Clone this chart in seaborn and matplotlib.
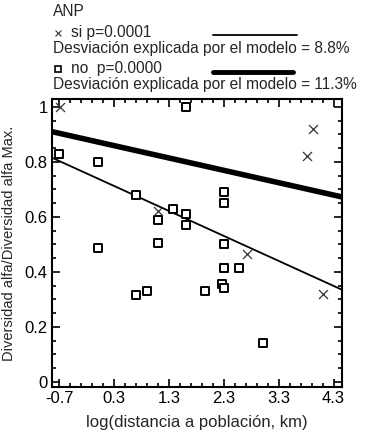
import numpy as np
import pandas as pd
import seaborn as sns
import matplotlib.pyplot as plt
from matplotlib.lines import Line2D

# points
si_x = [-0.68, 3.92, 3.81, 1.10, 2.72, 4.10]
si_y = [1.00, 0.92, 0.82, 0.62, 0.465, 0.32]
no_x = [-0.70, 0.01, 1.61, 0.70, 1.37, 1.10, 1.61, 1.61, 1.10, 2.30, 2.30, 2.30,
        0.01, 0.70, 0.90, 1.95, 2.30, 2.57, 2.26, 2.30, 3.01]
no_y = [0.83, 0.80, 1.00, 0.68, 0.63, 0.59, 0.61, 0.57, 0.505, 0.69, 0.65, 0.50,
        0.485, 0.315, 0.33, 0.33, 0.415, 0.415, 0.355, 0.34, 0.14]

# fitted lines (intercept at x=0, slope)
fit_si = (0.740, -0.091)
fit_no = (0.873, -0.045)

xticks = [-0.7, 0.3, 1.3, 2.3, 3.3, 4.3]
yticks = [0, 0.2, 0.4, 0.6, 0.8, 1.0]

df = pd.DataFrame({'x': si_x + no_x, 'y': si_y + no_y,
                   'ANP': ['si'] * len(si_x) + ['no'] * len(no_x)})

sns.set_style('ticks')
plt.rcParams['font.family'] = ['Liberation Sans', 'DejaVu Sans']

fig = plt.figure(figsize=(3.74, 4.41), dpi=100)
ax = fig.add_axes([0.139, 0.122, 0.775, 0.654])

xl = (-0.83, 4.45)
xx = np.array(xl)
lines = pd.DataFrame({'x': np.concatenate([xx, xx]),
                      'y': np.concatenate([fit_si[0] + fit_si[1] * xx,
                                           fit_no[0] + fit_no[1] * xx]),
                      'ANP': ['si', 'si', 'no', 'no']})
sns.lineplot(data=lines[lines.ANP == 'si'], x='x', y='y', color='black', lw=1.3, ax=ax)
sns.lineplot(data=lines[lines.ANP == 'no'], x='x', y='y', color='black', lw=4, ax=ax)

sns.scatterplot(data=df[df.ANP == 'no'], x='x', y='y', marker='s', s=30,
                facecolor='white', edgecolor='black', linewidth=1.4, ax=ax, zorder=3)
sns.scatterplot(data=df[df.ANP == 'si'], x='x', y='y', marker='x', s=42,
                color='#333333', linewidth=0.9, ax=ax, zorder=3)

ax.set_xlim(xl)
ax.set_ylim(-0.02, 1.03)
ax.set_xticks(xticks)
ax.set_xticklabels([str(t) for t in xticks])
ax.set_yticks(yticks)
ax.set_yticklabels(['0', '0.2', '0.4', '0.6', '0.8', '1'])
ax.set_xticks(np.arange(-0.7, 4.31, 0.2), minor=True)
ax.set_yticks(np.arange(0, 1.01, 0.05), minor=True)
ax.tick_params(which='both', direction='in', top=True, right=True, labelsize=12,
               width=1.2, colors='black')
ax.tick_params(which='major', length=6, pad=3)
ax.tick_params(which='minor', length=3)
for s in ax.spines.values():
    s.set_linewidth(1.5)
    s.set_color('black')
ax.set_xlabel('log(distancia a población, km)', fontsize=12, labelpad=6)
ax.set_ylabel('Diversidad alfa/Diversidad alfa Max.', fontsize=10.5, labelpad=6)

# legend block at top
fs = 11.2
fig.text(53 / 374, 1 - 12 / 441, 'ANP', fontsize=fs, va='center')
fig.add_artist(Line2D([58 / 374], [1 - 33 / 441], marker='x', color='#333333',
                      markersize=5, mew=0.8, transform=fig.transFigure))
fig.text(71 / 374, 1 - 32 / 441, 'si p=0.0001', fontsize=fs, va='center')
fig.add_artist(Line2D([213 / 374, 297 / 374], [1 - 35 / 441] * 2, color='black',
                      lw=1.3, transform=fig.transFigure))
fig.text(53 / 374, 1 - 49 / 441, 'Desviación explicada por el modelo = 8.8%', fontsize=fs, va='center')
fig.add_artist(Line2D([58 / 374], [1 - 69 / 441], marker='s', mfc='white', mec='black',
                      markersize=4, mew=1.2, transform=fig.transFigure))
fig.text(71 / 374, 1 - 68 / 441, 'no  p=0.0000', fontsize=fs, va='center')
fig.add_artist(Line2D([213 / 374, 293 / 374], [1 - 72 / 441] * 2, color='black',
                      lw=3.5, transform=fig.transFigure))
fig.text(53 / 374, 1 - 85 / 441, 'Desviación explicada por el modelo = 11.3%', fontsize=fs, va='center')

fig.savefig('out.png', dpi=100)
